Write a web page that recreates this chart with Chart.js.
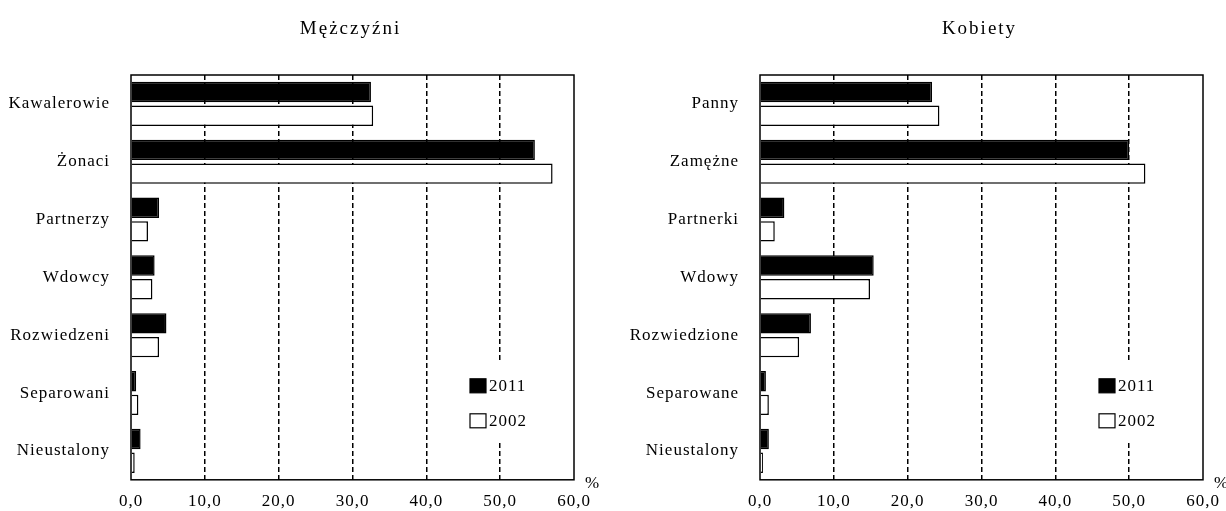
<!DOCTYPE html>
<html>
<head>
<meta charset="utf-8">
<script src="https://cdn.jsdelivr.net/npm/chart.js@4"></script>
<style>
  html, body { margin: 0; padding: 0; background: #fff; overflow: hidden; }
  .box { position: absolute; top: 0; width: 610px; height: 511px; }
</style>
</head>
<body>
<div class="box" style="left:0"><canvas id="men"></canvas></div>
<div class="box" style="left:629px"><canvas id="women"></canvas></div>
<script>
const MEN_LABELS = ["Kawalerowie", "Żonaci", "Partnerzy", "Wdowcy", "Rozwiedzeni", "Separowani", "Nieustalony"];
const MEN_2011 = [32.5, 54.7, 3.8, 3.2, 4.8, 0.7, 1.3];
const MEN_2002 = [32.8, 57.1, 2.3, 2.9, 3.8, 1.0, 0.5];

const WOMEN_LABELS = ["Panny", "Zamężne", "Partnerki", "Wdowy", "Rozwiedzione", "Separowane", "Nieustalony"];
const WOMEN_2011 = [23.3, 50.0, 3.3, 15.4, 6.9, 0.8, 1.2];
const WOMEN_2002 = [24.3, 52.2, 2.0, 14.9, 5.3, 1.2, 0.4];

const YEARS = ["2011", "2002"];
const X_TICKS = [0, 10, 20, 30, 40, 50, 60];

const FONT = '"Liberation Serif", "Times New Roman", serif';
const SPACING = '1px';

// frame, legend, title and the "%" sign
const panel = {
  id: 'panel',
  beforeLayout(chart) { chart.ctx.letterSpacing = SPACING; },
  beforeDraw(chart) { chart.ctx.letterSpacing = SPACING; },
  afterDatasetsDraw(chart, args, opts) {
    const { ctx, chartArea: a } = chart;
    ctx.save();
    ctx.letterSpacing = SPACING;
    ctx.strokeStyle = '#000';
    ctx.lineWidth = 1.5;
    ctx.strokeRect(a.left, a.top, a.right - a.left, a.bottom - a.top);

    ctx.fillStyle = '#fff';
    ctx.fillRect(a.right - 112, a.bottom - 119, 78, 82);
    chart.data.datasets.forEach((d, i) => {
      const y = a.bottom - 101 + i * 35;
      ctx.fillStyle = d.backgroundColor;
      ctx.fillRect(a.right - 104, y, 16, 14);
      ctx.lineWidth = 1.2;
      ctx.strokeRect(a.right - 104, y, 16, 14);
      ctx.fillStyle = '#000';
      ctx.font = '17px ' + FONT;
      ctx.textAlign = 'left';
      ctx.textBaseline = 'middle';
      ctx.fillText(d.label, a.right - 85, y + 8);
    });

    ctx.fillText('%', a.right + 11, a.bottom + 4);

    ctx.font = '19px ' + FONT;
    ctx.letterSpacing = '2px';
    ctx.textAlign = 'center';
    ctx.fillText(opts.title, (a.left + a.right) / 2 - 2, 29);
    ctx.restore();
  }
};

function makeChart(id, title, labels, a, b) {
  return new Chart(document.getElementById(id), {
    type: 'bar',
    data: {
      labels: labels,
      datasets: [
        { label: YEARS[0], data: a, backgroundColor: '#000', borderColor: '#000', borderWidth: 1.5 },
        { label: YEARS[1], data: b, backgroundColor: '#fff', borderColor: '#000', borderWidth: 1.5 }
      ]
    },
    options: {
      indexAxis: 'y',
      responsive: true,
      maintainAspectRatio: false,
      animation: false,
      categoryPercentage: 0.82,
      barPercentage: 0.86,
      layout: { padding: { top: 75, right: 36, bottom: 0, left: 0 } },
      plugins: {
        legend: { display: false },
        tooltip: { enabled: false },
        panel: { title: title }
      },
      scales: {
        x: {
          min: 0,
          max: 60,
          afterBuildTicks: s => { s.ticks = X_TICKS.map(v => ({ value: v })); },
          afterFit: s => { s.height = 30; },
          grid: {
            drawTicks: false,
            lineWidth: 1.5,
            color: c => (c.tick && (c.tick.value === 0 || c.tick.value === 60)) ? 'rgba(0,0,0,0)' : '#000'
          },
          border: { display: false, dash: [5, 3] },
          ticks: {
            padding: 12,
            color: '#000',
            font: { family: FONT, size: 17 },
            maxRotation: 0,
            callback: v => v.toFixed(1).replace('.', ',')
          }
        },
        y: {
          afterFit: s => { s.width = 131; },
          grid: { display: false, drawTicks: false },
          border: { display: false },
          ticks: {
            padding: 21,
            color: '#000',
            font: { family: FONT, size: 17 }
          }
        }
      }
    },
    plugins: [panel]
  });
}

makeChart('men', 'Mężczyźni', MEN_LABELS, MEN_2011, MEN_2002);
makeChart('women', 'Kobiety', WOMEN_LABELS, WOMEN_2011, WOMEN_2002);
</script>
</body>
</html>
